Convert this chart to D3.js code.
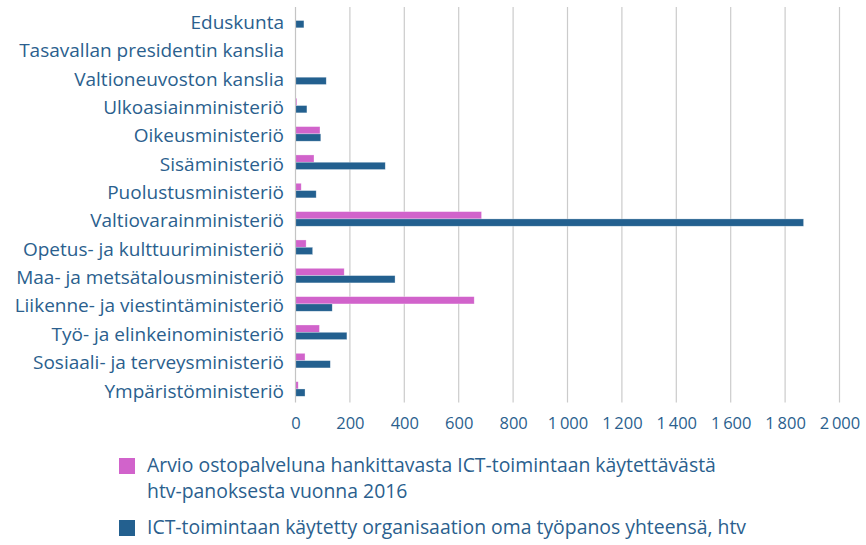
<!DOCTYPE html>
<html>
<head>
<meta charset="utf-8">
<script src="https://cdn.jsdelivr.net/npm/d3@7"></script>
<style>
  html, body { margin: 0; padding: 0; background: #fff; }
  svg { display: block; font-family: 'Open Sans', sans-serif; }
</style>
</head>
<body>
<div id="chart"></div>
<script>
// ===== ICT HTV BY MINISTRY =====

const categories = [
  'Eduskunta',
  'Tasavallan presidentin kanslia',
  'Valtioneuvoston kanslia',
  'Ulkoasiainministeriö',
  'Oikeusministeriö',
  'Sisäministeriö',
  'Puolustusministeriö',
  'Valtiovarainministeriö',
  'Opetus- ja kulttuuriministeriö',
  'Maa- ja metsätalousministeriö',
  'Liikenne- ja viestintäministeriö',
  'Työ- ja elinkeinoministeriö',
  'Sosiaali- ja terveysministeriö',
  'Ympäristöministeriö'
];

// purchased services estimate 2016 (pink)
const purchased = [0, 0, 0, 5, 90, 68, 21, 684, 39, 179, 657, 88, 35, 10];
// own ICT work input total (blue)
const ownWork = [31, 0, 113, 42, 93, 330, 76, 1868, 63, 366, 135, 189, 128, 35];

const xTicks = [0, 200, 400, 600, 800, 1000, 1200, 1400, 1600, 1800, 2000];

const seriesNames = [
  'Arvio ostopalveluna hankittavasta ICT-toimintaan käytettävästä htv-panoksesta vuonna 2016',
  'ICT-toimintaan käytetty organisaation oma työpanos yhteensä, htv'
];
const legendLines = [
  ['Arvio ostopalveluna hankittavasta ICT-toimintaan käytettävästä', 'htv-panoksesta vuonna 2016'],
  ['ICT-toimintaan käytetty organisaation oma työpanos yhteensä, htv']
];
const colors = ['#d163cb', '#23608f'];

const textColor = '#2b5f8e';
const W = 866, H = 545;
const margin = { top: 7, left: 295.5, right: 26.5, bottom: 142.5 };

const svg = d3.select('#chart').append('svg')
  .attr('width', W)
  .attr('height', H);

const x = d3.scaleLinear()
  .domain([0, 2000])
  .range([margin.left, W - margin.right]);

const y = d3.scaleBand()
  .domain(categories)
  .range([margin.top, H - margin.bottom])
  .paddingInner(0.485)
  .paddingOuter(0.22);

const ySub = d3.scaleBand()
  .domain([0, 1])
  .range([0, y.bandwidth()]);

const rows = categories.map((c, i) => ({ cat: c, vals: [purchased[i], ownWork[i]] }));

// gridlines
svg.append('g')
  .selectAll('line')
  .data(xTicks.slice(1))
  .join('line')
  .attr('x1', d => x(d)).attr('x2', d => x(d))
  .attr('y1', margin.top).attr('y2', H - margin.bottom)
  .attr('stroke', '#cbcbcb')
  .attr('stroke-width', 1.2);

// bars
const groups = svg.append('g')
  .selectAll('g')
  .data(rows)
  .join('g')
  .attr('transform', d => `translate(0,${y(d.cat)})`);

groups.selectAll('rect')
  .data(d => d.vals.map((v, k) => ({ v, k })).filter(e => e.v > 0))
  .join('rect')
  .attr('x', x(0))
  .attr('y', d => ySub(d.k))
  .attr('width', d => x(d.v) - x(0))
  .attr('height', ySub.bandwidth())
  .attr('fill', d => colors[d.k])
  .attr('stroke', '#fff')
  .attr('stroke-opacity', 0.5)
  .attr('stroke-width', 0.6);

// y axis line (value axis at 0)
svg.append('line')
  .attr('x1', x(0)).attr('x2', x(0))
  .attr('y1', margin.top).attr('y2', H - margin.bottom)
  .attr('stroke', '#c4c4c4')
  .attr('stroke-width', 1.2);

// category labels
svg.append('g')
  .selectAll('text')
  .data(categories)
  .join('text')
  .attr('x', 284)
  .attr('y', d => y(d) + y.bandwidth() / 2)
  .attr('dy', '0.45em')
  .attr('text-anchor', 'end')
  .attr('font-size', '19px')
  .attr('fill', textColor)
  .text(d => d);

// x axis tick labels
const fi = d3.formatLocale({ decimal: ',', thousands: '\u2009', grouping: [3], currency: ['', ''] });
const fmt = fi.format(',d');

const xAxis = d3.axisBottom(x)
  .tickValues(xTicks)
  .tickFormat(fmt)
  .tickSize(0)
  .tickPadding(0);

const xg = svg.append('g')
  .attr('transform', `translate(0, 429)`)
  .call(xAxis);
xg.select('.domain').remove();
xg.selectAll('text')
  .attr('dy', 0)
  .attr('y', 0)
  .attr('font-size', '16.5px')
  .attr('font-family', "'Open Sans', sans-serif")
  .attr('fill', textColor);

// legend
const legend = svg.append('g');
const legendY = [458, 520];
seriesNames.forEach((name, k) => {
  legend.append('rect')
    .attr('x', 119)
    .attr('y', legendY[k])
    .attr('width', 16)
    .attr('height', 16)
    .attr('fill', colors[k]);
  const t = legend.append('text')
    .attr('x', 147)
    .attr('y', legendY[k] + 14)
    .attr('font-size', '19.4px')
    .attr('fill', textColor);
  legendLines[k].forEach((ln, j) => {
    t.append('tspan')
      .attr('x', 147)
      .attr('dy', j === 0 ? 0 : 26)
      .text(ln);
  });
});
</script>
</body>
</html>
